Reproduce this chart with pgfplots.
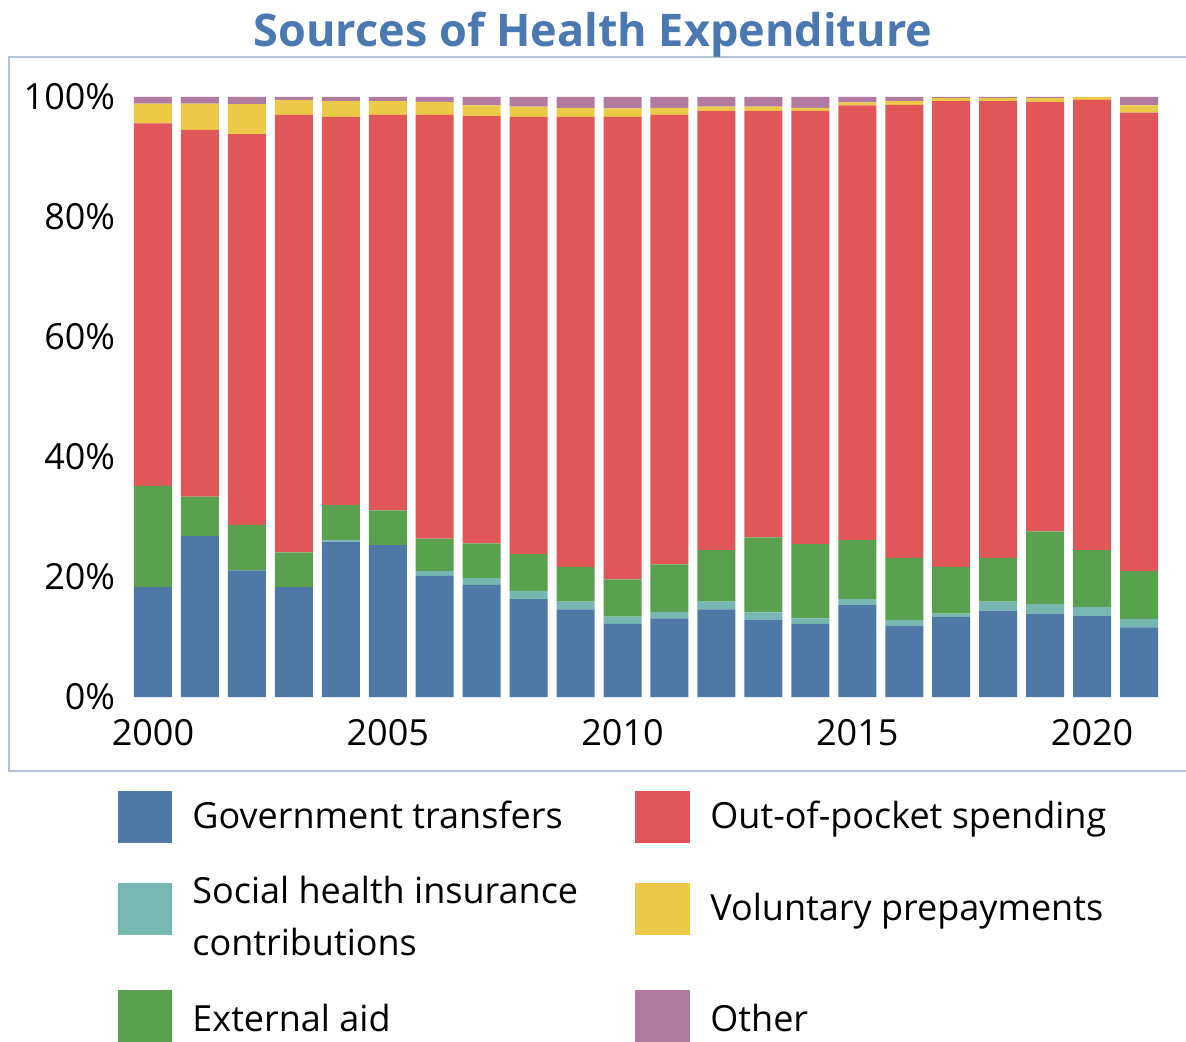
\documentclass[border=0pt]{standalone}
\usepackage{fontspec}
\setmainfont{Open Sans}
\usepackage{pgfplots}
\pgfplotsset{compat=1.18}
\usepackage{pgfplotstable}

\definecolor{cgov}{HTML}{4E79A7}
\definecolor{csoc}{HTML}{76B7B2}
\definecolor{cext}{HTML}{59A14F}
\definecolor{coop}{HTML}{E15759}
\definecolor{cvol}{HTML}{EDC948}
\definecolor{coth}{HTML}{B07AA1}
\definecolor{ctitle}{HTML}{4A78B2}
\definecolor{cframe}{HTML}{B4C3D6}

\pgfplotstableread{
year gov soc ext oop vol oth
2000 18.3 0.0 16.9 60.4 3.3 1.1
2001 26.8 0.0 6.6 61.1 4.4 1.1
2002 21.1 0.0 7.6 65.1 5.0 1.2
2003 18.3 0.0 5.8 72.9 2.5 0.5
2004 25.9 0.3 5.8 64.7 2.6 0.7
2005 25.3 0.0 5.8 65.9 2.3 0.7
2006 20.2 0.8 5.4 70.6 2.2 0.8
2007 18.7 1.1 5.8 71.2 1.8 1.4
2008 16.3 1.4 6.1 72.9 1.7 1.6
2009 14.6 1.3 5.8 75.0 1.5 1.8
2010 12.2 1.2 6.2 77.1 1.4 1.9
2011 13.1 1.1 7.9 74.9 1.2 1.8
2012 14.6 1.3 8.6 73.2 0.7 1.6
2013 12.9 1.2 12.5 71.1 0.7 1.6
2014 12.2 0.9 12.4 72.2 0.5 1.8
2015 15.3 1.0 9.9 72.4 0.5 0.9
2016 11.8 1.0 10.4 75.5 0.6 0.7
2017 13.3 0.6 7.8 77.6 0.5 0.2
2018 14.4 1.5 7.3 76.1 0.5 0.2
2019 13.9 1.6 12.1 71.6 0.6 0.2
2020 13.5 1.5 9.5 75.0 0.5 0.0
2021 11.6 1.4 8.0 76.4 1.2 1.4
}\datatable

\begin{document}
\begin{tikzpicture}
\path[use as bounding box] (0pt,0pt) rectangle (593pt,520.5pt);
\draw[cframe, line width=1pt] (4.65pt,492pt) rectangle (600pt,135pt);
\node[font=\fontsize{22.5}{26}\selectfont\bfseries, text=ctitle, anchor=base, inner sep=0pt] at (296.5pt,497pt) {Sources of Health Expenditure};
\begin{axis}[
  at={(64.75pt,172pt)}, anchor=south west, scale only axis,
  width=516.5pt, height=300pt,
  xmin=1999.5, xmax=2021.5, ymin=0, ymax=100,
  ybar stacked, bar width=19pt,
  axis line style={draw=none}, major tick length=0pt,
  xtick={2000,2005,2010,2015,2020},
  xticklabels={2000,2005,2010,2015,2020},
  ytick={0,20,40,60,80,100},
  yticklabels={0\%,20\%,40\%,60\%,80\%,100\%},
  tick label style={font=\fontsize{18}{22}\selectfont},
  xticklabel style={anchor=north, inner sep=0pt, yshift=-11pt},
  yticklabel style={anchor=east, inner sep=0pt, xshift=-7pt},
]
\addplot[fill=cgov, draw=none] table[x=year,y=gov]{\datatable};
\addplot[fill=csoc, draw=none] table[x=year,y=soc]{\datatable};
\addplot[fill=cext, draw=none] table[x=year,y=ext]{\datatable};
\addplot[fill=coop, draw=none] table[x=year,y=oop]{\datatable};
\addplot[fill=cvol, draw=none] table[x=year,y=vol]{\datatable};
\addplot[fill=coth, draw=none] table[x=year,y=oth]{\datatable};
\end{axis}
% legend
\begin{scope}[every node/.style={anchor=base west, inner sep=0pt, font=\fontsize{18}{26}\selectfont}]
\fill[cgov] (59pt,99pt) rectangle (86pt,125pt);
\node at (96pt,106.5pt) {Government transfers};
\fill[csoc] (59pt,53pt) rectangle (86pt,79pt);
\node at (96pt,69pt) {Social health insurance};
\node at (96pt,43pt) {contributions};
\fill[cext] (59pt,-1pt) rectangle (86pt,25.5pt);
\node at (96pt,5pt) {External aid};
\fill[coop] (317.5pt,99pt) rectangle (345pt,125pt);
\node at (355pt,106.5pt) {Out-of-pocket spending};
\fill[cvol] (317.5pt,53pt) rectangle (345pt,79pt);
\node at (355pt,60.5pt) {Voluntary prepayments};
\fill[coth] (317.5pt,-1pt) rectangle (345pt,25.5pt);
\node at (355pt,5pt) {Other};
\end{scope}
\end{tikzpicture}
\end{document}
